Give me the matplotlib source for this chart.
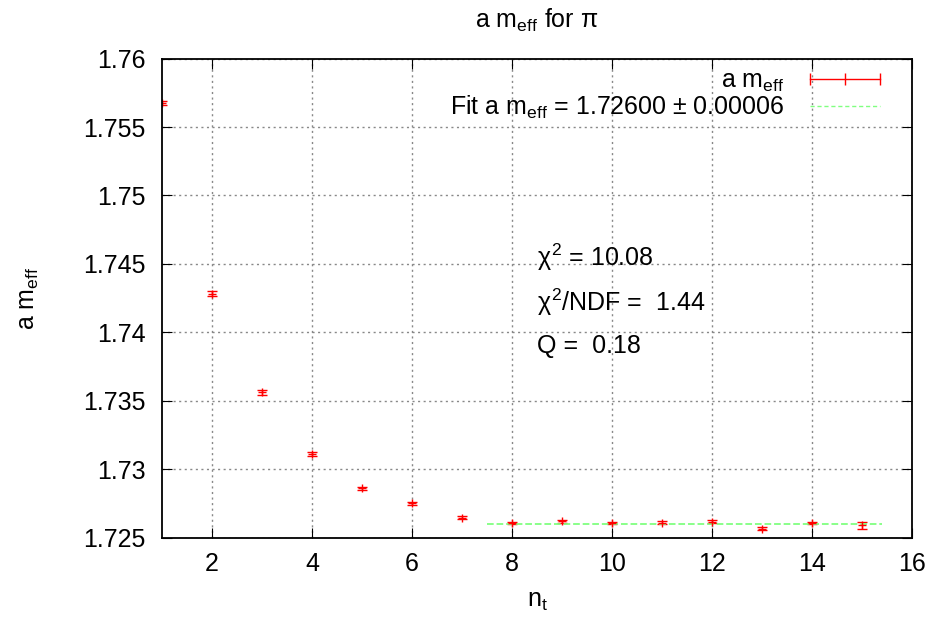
import numpy as np
import matplotlib.pyplot as plt
from matplotlib.lines import Line2D

plt.rcParams['font.family'] = ['Liberation Sans', 'DejaVu Sans']
plt.rcParams['mathtext.fontset'] = 'custom'
plt.rcParams['mathtext.rm'] = 'Liberation Sans'
plt.rcParams['mathtext.it'] = 'Liberation Sans'

# data
nt = [1, 2, 3, 4, 5, 6, 7, 8, 9, 10, 11, 12, 13, 14, 15]
meff = [1.75675, 1.74283, 1.73561, 1.73110, 1.72861, 1.72751, 1.72646,
        1.72607, 1.72619, 1.72607, 1.72610, 1.72617, 1.72566, 1.72607, 1.72590]
err = [0.00012, 0.00018, 0.00016, 0.00013, 0.00010, 0.00010, 0.00009,
       0.00009, 0.00009, 0.00009, 0.00009, 0.00009, 0.00009, 0.00009, 0.00025]
fit_val = 1.72600
fit_range = [7.5, 15.4]

fs = 18

fig = plt.figure(figsize=(9.33, 6.23), dpi=100)
ax = fig.add_axes([0.1736, 0.137, 0.8039, 0.769])

ax.errorbar(nt, meff, yerr=err, fmt='+', color='red', ms=6, mew=1,
            elinewidth=1, capsize=3.5, capthick=1)
ax.plot(fit_range, [fit_val, fit_val], '--', color='#80ff80', lw=1.3)

ax.set_xlim(1, 16)
ax.set_ylim(1.725, 1.76)
ax.set_xticks([2, 4, 6, 8, 10, 12, 14, 16])
ax.set_yticks([1.725, 1.73, 1.735, 1.74, 1.745, 1.75, 1.755, 1.76])
ax.set_yticklabels(['1.725', '1.73', '1.735', '1.74', '1.745', '1.75', '1.755', '1.76'])
ax.tick_params(direction='in', top=True, right=True, length=7, labelsize=fs)
ax.tick_params(axis='x', pad=10)
ax.tick_params(axis='y', pad=12)
ax.grid(True, linestyle=(0, (1.5, 2.5)), color='#888888', lw=1)
for s in ax.spines.values():
    s.set_linewidth(1.3)

ax.set_xlabel(r'n$_{\mathrm{t}}$', fontsize=fs, labelpad=10)
ax.set_ylabel(r'a m$_{\mathrm{eff}}$', fontsize=fs, labelpad=30)
ax.set_title(r'a m$_{\mathrm{eff}}$ for $\pi$', fontsize=fs, pad=22)

ax.text(8.5, 1.7455, r'$\chi^2$ = 10.08', fontsize=fs, va='center')
ax.text(8.5, 1.7422, r'$\chi^2$/NDF =  1.44', fontsize=fs, va='center')
ax.text(8.5, 1.7390, 'Q =  0.18', fontsize=fs, va='center')

h1 = Line2D([], [], color='red', lw=1, marker='|', ms=8, mew=1)
h2 = Line2D([], [], color='#80ff80', lw=1, ls=(0, (3, 2)))
ax.legend([h1, h2], [r'a m$_{\mathrm{eff}}$', r'Fit a m$_{\mathrm{eff}}$ = 1.72600 $\pm$ 0.00006'],
          loc='upper right', bbox_to_anchor=(1.0, 1.031), frameon=False,
          markerfirst=False, fontsize=fs, numpoints=3, handlelength=3.4,
          handletextpad=0.7, borderaxespad=1.0, borderpad=0.0, labelspacing=0.0)

fig.savefig('out.png', dpi=100)
